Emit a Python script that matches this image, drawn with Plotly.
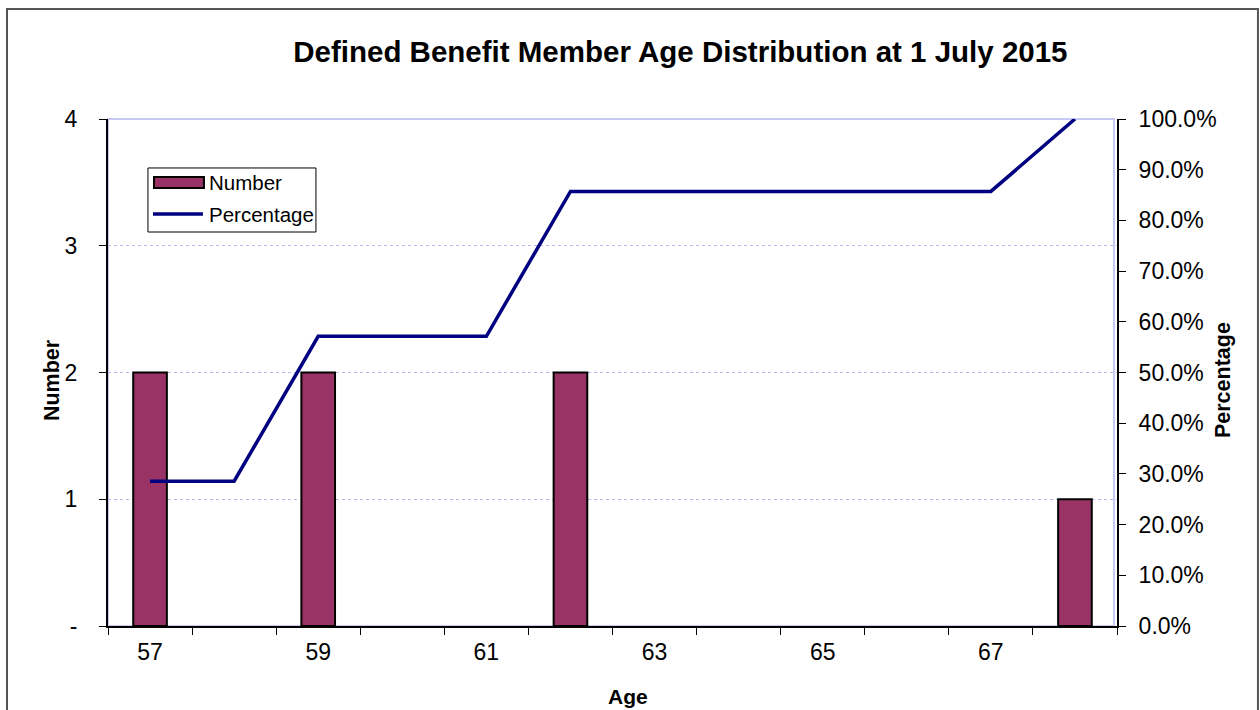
import plotly.graph_objects as go

ages = ["57", "58", "59", "60", "61", "62", "63", "64", "65", "66", "67", "68"]
age_tick_text = ["57", "", "59", "", "61", "", "63", "", "65", "", "67", ""]
numbers = [2, 0, 2, 0, 0, 2, 0, 0, 0, 0, 0, 1]
percentages = [0.2857, 0.2857, 0.5714, 0.5714, 0.5714, 0.8571, 0.8571, 0.8571, 0.8571, 0.8571, 0.8571, 1.0]
left_tick_vals = [0, 1, 2, 3, 4]
left_tick_text = ["-", "1", "2", "3", "4"]

FONT = "Liberation Sans, Arial, sans-serif"
BAR_COLOR = "#993366"
LINE_COLOR = "#000080"
TICK_SIZE = 23

bar_values = [n if n else None for n in numbers]

fig = go.Figure()
fig.add_trace(go.Bar(
    x=ages, y=bar_values, name="Number", width=0.4,
    marker=dict(color=BAR_COLOR, line=dict(color="black", width=2)),
    yaxis="y", showlegend=False,
))
fig.add_trace(go.Scatter(
    x=ages, y=percentages, name="Percentage", mode="lines",
    line=dict(color=LINE_COLOR, width=3.5),
    yaxis="y2", showlegend=False,
))

fig.update_layout(
    width=1260, height=710,
    margin=dict(l=108, r=143, t=119, b=84),
    paper_bgcolor="white", plot_bgcolor="white",
    font=dict(family=FONT, color="black", size=TICK_SIZE),
    title=dict(text="<b>Defined Benefit Member Age Distribution at 1 July 2015</b>",
               x=0.54, xanchor="center", y=0.927, yanchor="middle",
               font=dict(size=29.5, family=FONT)),
    xaxis=dict(
        type="category", categoryorder="array", categoryarray=ages,
        tickvals=ages, ticktext=age_tick_text, tickson="boundaries",
        ticks="outside", ticklen=7, tickcolor="black", tickwidth=1,
        showline=True, linecolor="black", linewidth=2,
        showgrid=False, tickfont=dict(size=TICK_SIZE), ticklabelstandoff=4,
        range=[-0.5, 11.5],
    ),
    yaxis=dict(
        range=[0, 4], tickvals=left_tick_vals, ticktext=left_tick_text,
        ticks="outside", ticklen=7, tickcolor="black",
        showline=True, linecolor="black", linewidth=2,
        showgrid=True, gridcolor="#b8b8f2", griddash="dot", gridwidth=1,
        zeroline=False, tickfont=dict(size=TICK_SIZE), ticklabelstandoff=17,
    ),
    yaxis2=dict(
        range=[0, 1], overlaying="y", side="right", dtick=0.1, tickformat=".1%",
        ticks="outside", ticklen=7, tickcolor="black",
        showline=True, linecolor="black", linewidth=2,
        showgrid=False, zeroline=False, tickfont=dict(size=TICK_SIZE), ticklabelstandoff=8,
    ),
    shapes=[
        # plot-area border
        dict(type="rect", xref="paper", yref="paper", x0=0, x1=0.997, y0=0, y1=1,
             line=dict(color="#c8c8f4", width=2), layer="below"),
        # outer chart frame
        dict(type="rect", xref="paper", yref="paper", x0=-0.1001, x1=1.1397, y0=-0.18, y1=1.217,
             line=dict(color="#555555", width=2), layer="below"),
        # legend box
        dict(type="rect", xref="paper", yref="paper", x0=0.0396, x1=0.2061, y0=0.7771, y1=0.9034,
             line=dict(color="black", width=1), fillcolor="white", layer="above"),
        # legend bar symbol
        dict(type="rect", xref="paper", yref="paper", x0=0.0456, x1=0.0951, y0=0.8639, y1=0.8856,
             line=dict(color="black", width=2), fillcolor=BAR_COLOR, layer="above"),
        # legend line symbol
        dict(type="line", xref="paper", yref="paper", x0=0.0446, x1=0.0941, y0=0.8126, y1=0.8126,
             line=dict(color=LINE_COLOR, width=3.5), layer="above"),
    ],
    annotations=[
        dict(text="Number", xref="paper", yref="paper", x=0.0981, y=0.8738,
             xanchor="left", yanchor="middle", showarrow=False, font=dict(size=20.5)),
        dict(text="Percentage", xref="paper", yref="paper", x=0.0981, y=0.8126,
             xanchor="left", yanchor="middle", showarrow=False, font=dict(size=20.5)),
        dict(text="<b>Number</b>", xref="paper", yref="paper", x=-0.0555, y=0.485,
             xanchor="center", yanchor="middle", textangle=-90, showarrow=False,
             font=dict(size=21.5)),
        dict(text="<b>Percentage</b>", xref="paper", yref="paper", x=1.105, y=0.485,
             xanchor="center", yanchor="middle", textangle=-90, showarrow=False,
             font=dict(size=21.5)),
        dict(text="<b>Age</b>", xref="paper", yref="paper", x=0.5154, y=-0.14,
             xanchor="center", yanchor="middle", showarrow=False, font=dict(size=21)),
    ],
)

fig.write_html("out.html")
